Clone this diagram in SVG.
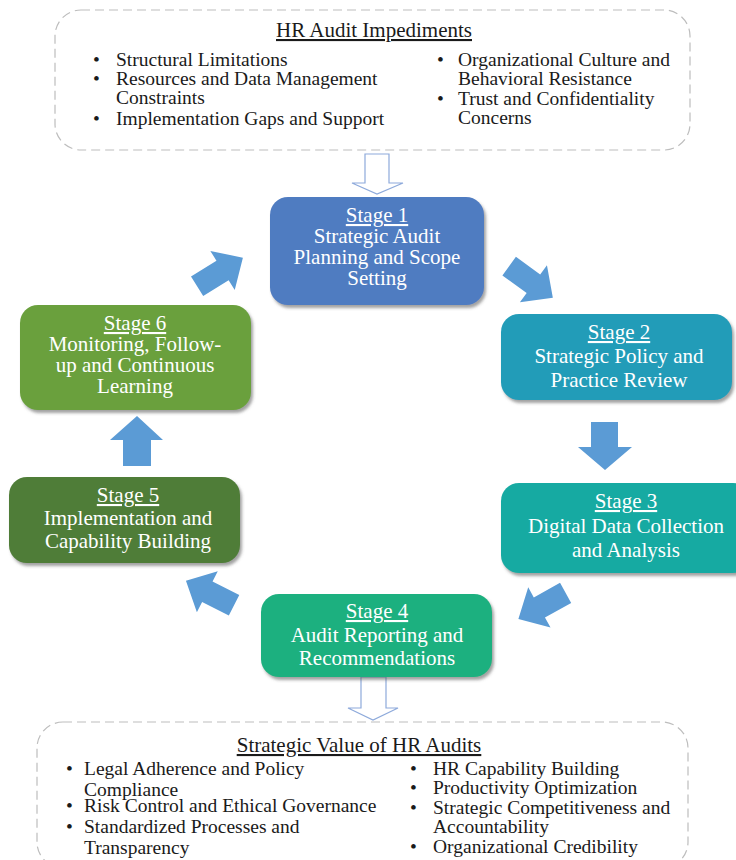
<svg xmlns="http://www.w3.org/2000/svg" xmlns:xlink="http://www.w3.org/1999/xlink" width="736" height="860" viewBox="0 0 736 860">
<defs>
<style>
.dash{fill:#fff;stroke:#bdbdbd;stroke-width:1.2;stroke-dasharray:9 5}
.ttl{font-family:"Liberation Serif","Times New Roman",serif;font-size:21px;fill:#1a1a1a;text-anchor:middle;text-decoration:underline}
.bl{font-family:"Liberation Serif","Times New Roman",serif;font-size:19.5px;fill:#1a1a1a}
.st{font-family:"Liberation Serif","Times New Roman",serif;font-size:21px;fill:#fff;text-anchor:middle}
.u{text-decoration:underline}
.arr{fill:#5b9bd5}
.hol{fill:#fff;stroke:#8eaadb;stroke-width:1.2}
</style>
<filter id="sh" x="-10%" y="-10%" width="125%" height="130%">
<feDropShadow dx="2" dy="3" stdDeviation="1.5" flood-color="#555" flood-opacity="0.55"/>
</filter>
<path id="da" d="M-27,-11.5 L3,-11.5 L3,-23 L27,0 L3,23 L3,11.5 L-27,11.5 Z"/>
</defs>

<g id="impediments">
<rect class="dash" x="55" y="10" width="635" height="140" rx="26"/>
<text class="ttl" x="374" y="37">HR Audit Impediments</text>
<g class="bl">
<text x="93" y="66">•</text><text x="116" y="66">Structural Limitations</text>
<text x="93" y="85">•</text><text x="116" y="85">Resources and Data Management</text>
<text x="116" y="104">Constraints</text>
<text x="93" y="125">•</text><text x="116" y="125">Implementation Gaps and Support</text>
<text x="437" y="66">•</text><text x="458" y="66">Organizational Culture and</text>
<text x="458" y="85">Behavioral Resistance</text>
<text x="437" y="105">•</text><text x="458" y="105">Trust and Confidentiality</text>
<text x="458" y="124">Concerns</text>
</g>
</g>

<g id="connectors">
<path class="hol" d="M365,154 L389,154 L389,183 L403,183 L377,194 L352,183 L365,183 Z"/>
<use class="arr" xlink:href="#da" href="#da" transform="translate(531,282) rotate(36)"/>
<path class="arr" d="M591,422 L618,422 L618,447 L632,447 L605,470 L578,447 L591,447 Z"/>
<use class="arr" xlink:href="#da" href="#da" transform="translate(542,606) rotate(151)"/>
<use class="arr" xlink:href="#da" href="#da" transform="translate(210,593) rotate(207)"/>
<path class="arr" d="M123,466 L151,466 L151,440 L163,440 L137,416 L110,440 L123,440 Z"/>
<use class="arr" xlink:href="#da" href="#da" transform="translate(220,272) rotate(-32)"/>
<path class="hol" d="M361,677 L386,677 L386,708 L398,708 L373,720 L348,708 L361,708 Z"/>
</g>

<g id="stage1">
<rect x="270" y="197" width="214" height="108" rx="18" fill="#4f7bc1" filter="url(#sh)"/>
<text class="st" x="377" y="222"><tspan class="u">Stage 1</tspan></text>
<text class="st" x="377" y="243">Strategic Audit</text>
<text class="st" x="377" y="264">Planning and Scope</text>
<text class="st" x="377" y="285">Setting</text>
</g>

<g id="stage2">
<rect x="501" y="314" width="231" height="86" rx="18" fill="#229cb8" filter="url(#sh)"/>
<text class="st" x="619" y="339"><tspan class="u">Stage 2</tspan></text>
<text class="st" x="619" y="363">Strategic Policy and</text>
<text class="st" x="619" y="387">Practice Review</text>
</g>

<g id="stage3">
<rect x="501" y="483" width="250" height="90" rx="18" fill="#17aaa2" filter="url(#sh)"/>
<text class="st" x="626" y="508"><tspan class="u">Stage 3</tspan></text>
<text class="st" x="626" y="533">Digital Data Collection</text>
<text class="st" x="626" y="557">and Analysis</text>
</g>

<g id="stage4">
<rect x="261" y="594" width="231" height="83" rx="18" fill="#1fb07f" filter="url(#sh)"/>
<text class="st" x="377" y="618"><tspan class="u">Stage 4</tspan></text>
<text class="st" x="377" y="642">Audit Reporting and</text>
<text class="st" x="377" y="665">Recommendations</text>
</g>

<g id="stage5">
<rect x="9" y="477" width="231" height="86" rx="18" fill="#507d38" filter="url(#sh)"/>
<text class="st" x="128" y="502"><tspan class="u">Stage 5</tspan></text>
<text class="st" x="128" y="525">Implementation and</text>
<text class="st" x="128" y="548">Capability Building</text>
</g>

<g id="stage6">
<rect x="20" y="305" width="231" height="105" rx="18" fill="#6aa03c" filter="url(#sh)"/>
<text class="st" x="135" y="330"><tspan class="u">Stage 6</tspan></text>
<text class="st" x="135" y="351">Monitoring, Follow-</text>
<text class="st" x="135" y="372">up and Continuous</text>
<text class="st" x="135" y="393">Learning</text>
</g>

<g id="value">
<rect class="dash" x="37" y="722" width="651" height="146" rx="26"/>
<text class="ttl" x="359" y="752">Strategic Value of HR Audits</text>
<g class="bl">
<text x="66" y="775">•</text><text x="84" y="775">Legal Adherence and Policy</text>
<text x="84" y="796">Compliance</text>
<text x="66" y="812">•</text><text x="84" y="812">Risk Control and Ethical Governance</text>
<text x="66" y="833">•</text><text x="84" y="833">Standardized Processes and</text>
<text x="84" y="854">Transparency</text>
<text x="410" y="775">•</text><text x="433" y="775">HR Capability Building</text>
<text x="410" y="794">•</text><text x="433" y="794">Productivity Optimization</text>
<text x="410" y="814">•</text><text x="433" y="814">Strategic Competitiveness and</text>
<text x="433" y="833">Accountability</text>
<text x="410" y="853">•</text><text x="433" y="853">Organizational Credibility</text>
</g>
</g>
</svg>
